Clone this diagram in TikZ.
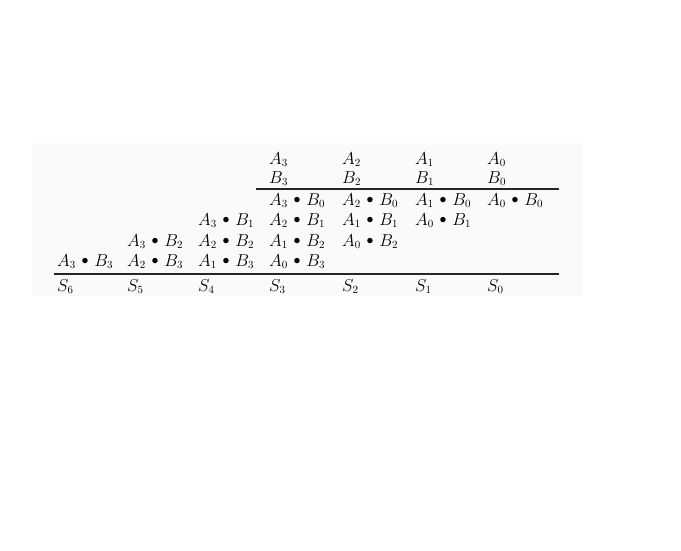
\documentclass[tikz,border=0pt]{standalone}
\begin{document}
\begin{tikzpicture}[x=1pt,y=-1pt,
  term/.style={anchor=base west,inner sep=0pt,font=\fontsize{16}{19}\selectfont},
  rule/.style={line width=1.3pt,black!85}]
\useasboundingbox (0,0) rectangle (681,550);
\fill[black!2] (32,143) rectangle (583,296);
\newcommand{\smbul}{\mathbin{\vcenter{\hbox{\scalebox{0.8}{$\bullet$}}}}}
\newcommand{\pp}[2]{$A_{#1}\mskip2mu\smbul\mskip2mu B_{#2}$}
% columns
\def\cA{57}\def\cB{127}\def\cC{198}\def\cD{269}\def\cE{342}\def\cF{415}\def\cG{487}
% operand rows
\node[term] (a3) at (\cD,164) {$A_3$};
\node[term] (a2) at (\cE,164) {$A_2$};
\node[term] (a1) at (\cF,164) {$A_1$};
\node[term] (a0) at (\cG,164) {$A_0$};
\node[term] (b3) at (\cD,183) {$B_3$};
\node[term] (b2) at (\cE,183) {$B_2$};
\node[term] (b1) at (\cF,183) {$B_1$};
\node[term] (b0) at (\cG,183) {$B_0$};
% partial products row 1
\node[term] (p30) at (\cD,205) {\pp30};
\node[term] (p20) at (\cE,205) {\pp20};
\node[term] (p10) at (\cF,205) {\pp10};
\node[term] (p00) at (\cG,205) {\pp00};
% row 2
\node[term] (p31) at (\cC,225) {\pp31};
\node[term] (p21) at (\cD,225) {\pp21};
\node[term] (p11) at (\cE,225) {\pp11};
\node[term] (p01) at (\cF,225) {\pp01};
% row 3
\node[term] (p32) at (\cB,246) {\pp32};
\node[term] (p22) at (\cC,246) {\pp22};
\node[term] (p12) at (\cD,246) {\pp12};
\node[term] (p02) at (\cE,246) {\pp02};
% row 4
\node[term] (p33) at (\cA,266) {\pp33};
\node[term] (p23) at (\cB,266) {\pp23};
\node[term] (p13) at (\cC,266) {\pp13};
\node[term] (p03) at (\cD,266) {\pp03};
% sums
\node[term] (s6) at (\cA,291) {$S_6$};
\node[term] (s5) at (\cB,291) {$S_5$};
\node[term] (s4) at (\cC,291) {$S_4$};
\node[term] (s3) at (\cD,291) {$S_3$};
\node[term] (s2) at (\cE,291) {$S_2$};
\node[term] (s1) at (\cF,291) {$S_1$};
\node[term] (s0) at (\cG,291) {$S_0$};
% rules
\coordinate (t1) at (256,189); \coordinate (t2) at (559,189);
\coordinate (u1) at (54,274);  \coordinate (u2) at (559,274);
\draw[rule] (t1) -- (t2);
\draw[rule] (u1) -- (u2);
\end{tikzpicture}
\end{document}
